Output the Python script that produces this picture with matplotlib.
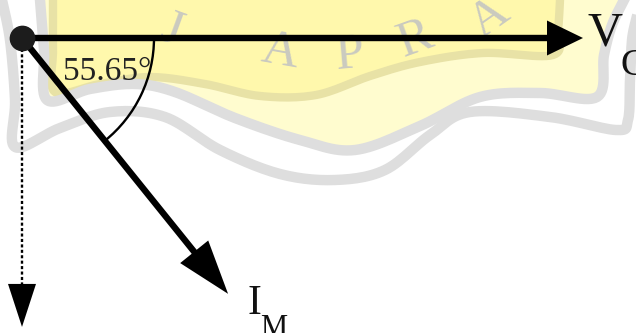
import numpy as np
import matplotlib
matplotlib.use("Agg")
import matplotlib.pyplot as plt
from matplotlib.patches import Arc, Polygon
from matplotlib.transforms import IdentityTransform

plt.rcParams['font.family'] = ['Liberation Serif', 'DejaVu Serif']

# ---- phasor data ----
phasor_names = ["V", "I"]
phasor_subs = ["G", "M"]
magnitudes = [1.0, 0.651]
angles_deg = [0.0, -55.65]
reference_angle_deg = -90.0
reference_length = 0.607
angle_text = "55.65°"

# ---- figure / axes ----
W, H = 636, 333
fig = plt.figure(figsize=(W / 100, H / 100), dpi=100)

bg = fig.add_axes([0, 0, 1, 1], zorder=0)
bg.set_xlim(0, W)
bg.set_ylim(H, 0)
bg.axis('off')

ax = fig.add_axes([0, 0, 1, 1], zorder=1)
ax.patch.set_alpha(0)
ax.axis('off')
ox, oy = 22, 38          # origin location in pixels
sx, sy = 561, 476        # pixels per unit along x and y
ax.set_xlim(-ox / sx, (W - ox) / sx)
ax.set_ylim(-(H - oy) / sy, oy / sy)


# ---- faint emblem in the background ----
def smooth(pts, n=14):
    pts = np.asarray(pts, float)
    P = np.vstack([pts[0], pts, pts[-1]])
    out = []
    t = np.linspace(0, 1, n, endpoint=False)[:, None]
    for i in range(1, len(P) - 2):
        p0, p1, p2, p3 = P[i - 1], P[i], P[i + 1], P[i + 2]
        out.append(0.5 * (2 * p1 + (-p0 + p2) * t
                          + (2 * p0 - 5 * p1 + 4 * p2 - p3) * t ** 2
                          + (-p0 + 3 * p1 - 3 * p2 + p3) * t ** 3))
    out.append(P[-2][None])
    return np.vstack(out)


inner_band = [(40, 0), (44, 50), (47, 100), (90, 89), (135, 84), (175, 92),
              (235, 118), (300, 140), (355, 150), (420, 126), (480, 97),
              (540, 93), (597, 97), (604, 55), (612, 25), (624, 0)]
outer_band = [(2, 0), (10, 40), (15, 100), (15, 147), (60, 128), (110, 112),
              (165, 117), (220, 150), (280, 174), (335, 180), (385, 170),
              (430, 135), (470, 112), (550, 117), (616, 130), (628, 120),
              (630, 80), (632, 40), (636, 20)]
khaki_band = [(53, 0), (53, 50), (55, 92), (100, 84), (150, 77), (205, 84),
              (260, 96), (316, 95), (370, 76), (420, 62), (483, 53),
              (553, 55), (558, 30), (560, 0)]

ib = smooth(inner_band)
ob = smooth(outer_band)
kb = smooth(khaki_band)
bg.add_patch(Polygon(ib, closed=True, facecolor='#FFFCCF', edgecolor='none'))
bg.add_patch(Polygon(kb, closed=True, facecolor='#FFF8AC', edgecolor='none'))
bg.plot(kb[:, 0], kb[:, 1], color='#E8E2A6', lw=6, solid_joinstyle='round')
bg.plot(ib[:, 0], ib[:, 1], color='#DEDEDE', lw=7.5, solid_joinstyle='round')
bg.plot(ob[:, 0], ob[:, 1], color='#DEDEDE', lw=7.5, solid_joinstyle='round')

emblem_letters = ["J", "A", "P", "R", "A"]
letter_xy = [(172, 30), (280, 52), (350, 56), (415, 40), (490, 18)]
letter_rot = [-20, -10, 5, 20, 35]
for ch, (lx, ly), r in zip(emblem_letters, letter_xy, letter_rot):
    bg.text(lx, ly, ch, fontsize=37, color='#CACAC0', ha='center',
            va='center', rotation=r)


# ---- phasors ----
def draw_arrow(tip, head_len, head_half, lw, ls='-'):
    p0 = ax.transData.transform((0, 0))
    p1 = ax.transData.transform(tip)
    d = p1 - p0
    u = d / np.hypot(*d)
    n = np.array([-u[1], u[0]])
    base = p1 - u * head_len
    end = ax.transData.inverted().transform(base + u * 2)
    ax.plot([0, end[0]], [0, end[1]], color='black', lw=lw, ls=ls,
            solid_capstyle='butt', dash_capstyle='butt', zorder=3)
    tri = np.array([p1, base + n * head_half, base - n * head_half])
    ax.add_patch(Polygon(tri, closed=True, transform=IdentityTransform(),
                         facecolor='black', edgecolor='none', zorder=4))
    return p1


head_sizes = [(36, 17.5), (54, 18)]
main_sizes = [35, 30]
sub_sizes = [27, 22]
main_offsets = [(5, -7), (19, -20)]
sub_offsets = [(37, -37), (32, -42)]

for name, sub, m, a, hs, fs, fss, mo, so in zip(
        phasor_names, phasor_subs, magnitudes, angles_deg, head_sizes,
        main_sizes, sub_sizes, main_offsets, sub_offsets):
    tip = (m * np.cos(np.deg2rad(a)), m * np.sin(np.deg2rad(a)))
    draw_arrow(tip, hs[0], hs[1], lw=4.6)
    ax.annotate(name, tip, xytext=mo, textcoords='offset pixels',
                fontsize=fs, ha='left', va='baseline', color='#111111')
    ax.annotate(sub, tip, xytext=so, textcoords='offset pixels',
                fontsize=fss, ha='left', va='baseline', color='#111111')

# dotted reference direction
ref_tip = (reference_length * np.cos(np.deg2rad(reference_angle_deg)),
           reference_length * np.sin(np.deg2rad(reference_angle_deg)))
draw_arrow(ref_tip, 43, 14, lw=1.7, ls=(0, (1.3, 1.0)))

# origin
ax.plot([0], [0], 'o', ms=17.5, color='#1C1C1C', zorder=5)

# angle between the two phasors
r_px = 132
ax.add_patch(Arc((0, 0), 2 * r_px / sx, 2 * r_px / sy,
                 theta1=angles_deg[1], theta2=angles_deg[0],
                 lw=1.7, color='black', zorder=3))
ax.annotate(angle_text, (0, 0), xytext=(41, -42), textcoords='offset pixels',
            fontsize=24, ha='left', va='baseline', color='#222222')

fig.savefig("out.png", dpi=100)
